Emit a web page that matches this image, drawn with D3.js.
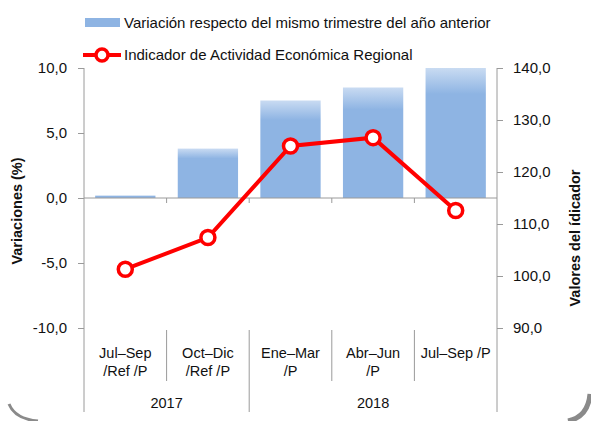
<!DOCTYPE html>
<html>
<head>
<meta charset="utf-8">
<script src="https://cdn.jsdelivr.net/npm/d3@7"></script>
<style>
  body { margin: 0; background: #fff; }
  svg text { font-family: "Liberation Sans", Arial, sans-serif; fill: #111; }
</style>
</head>
<body>
<div id="chart"></div>
<script>
// data
var quarters = [["Jul\u2013Sep", "/Ref /P"], ["Oct\u2013Dic", "/Ref /P"], ["Ene\u2013Mar", "/P"], ["Abr\u2013Jun", "/P"], ["Jul\u2013Sep /P"]];
var years = [{ label: "2017", from: 0, to: 2 }, { label: "2018", from: 2, to: 5 }];
var variacion = [0.2, 3.8, 7.5, 8.5, 10.0];
var indicador = [101.3, 107.4, 125.0, 126.6, 112.6];
var leftTicks = [-10, -5, 0, 5, 10];
var rightTicks = [90, 100, 110, 120, 130, 140];

var W = 591, H = 421;
var margin = { top: 68, right: 94, bottom: 93, left: 84 };
var width = W - margin.left - margin.right,
    height = H - margin.top - margin.bottom;

var fmt = function(d) { return d3.format(".1f")(d).replace(".", ",").replace("\u2212", "-"); };

var svg = d3.select("#chart").append("svg")
    .attr("width", W)
    .attr("height", H);

// gradient for bars
var defs = svg.append("defs");
var grad = defs.append("linearGradient")
    .attr("id", "barGrad")
    .attr("x1", 0).attr("y1", 0).attr("x2", 0).attr("y2", 1);
grad.append("stop").attr("offset", "0%").attr("stop-color", "#c9dbf2");
grad.append("stop").attr("offset", "20%").attr("stop-color", "#8eb4e3");
grad.append("stop").attr("offset", "100%").attr("stop-color", "#8eb4e3");

// frame corners (shadow of rounded border)
svg.append("path")
    .attr("d", "M9,404 Q15,419 38,421")
    .attr("fill", "none").attr("stroke", "#8a8a8a").attr("stroke-width", 3);
svg.append("path")
    .attr("d", "M590,394 Q588,417 568,421")
    .attr("fill", "none").attr("stroke", "#8a8a8a").attr("stroke-width", 5);

var g = svg.append("g")
    .attr("transform", "translate(" + margin.left + "," + margin.top + ")");

var x = d3.scaleBand()
    .domain(d3.range(quarters.length))
    .range([0, width])
    .paddingInner(0.27)
    .paddingOuter(0.135);

var xPos = d3.scaleLinear().domain([0, quarters.length]).range([0, width]);

var yL = d3.scaleLinear().domain([-10, 10]).range([height, 0]);
var yR = d3.scaleLinear().domain([90, 140]).range([height, 0]);

// bars
g.selectAll(".bar")
    .data(variacion)
    .enter().append("rect")
    .attr("class", "bar")
    .attr("x", function(d, i) { return x(i); })
    .attr("width", x.bandwidth())
    .attr("y", function(d) { return yL(Math.max(d, 0)); })
    .attr("height", function(d) { return Math.abs(yL(d) - yL(0)); })
    .attr("fill", "url(#barGrad)");

// left axis
var yAxisL = d3.axisLeft(yL)
    .tickValues(leftTicks)
    .tickSize(6)
    .tickPadding(11)
    .tickFormat(fmt);

var gL = g.append("g").attr("class", "y-axis").call(yAxisL);
gL.select(".domain").remove();
gL.selectAll("line").attr("stroke", "#9a9a9a");
gL.selectAll("text").style("font-size", "15px");

// right axis
var yAxisR = d3.axisRight(yR)
    .tickValues(rightTicks)
    .tickSize(6)
    .tickPadding(10)
    .tickFormat(fmt);

var gR = g.append("g").attr("class", "y-axis-right")
    .attr("transform", "translate(" + width + ",0)")
    .call(yAxisR);
gR.select(".domain").remove();
gR.selectAll("line").attr("stroke", "#9a9a9a");
gR.selectAll("text").style("font-size", "15px");

// vertical axis lines extended down through category area
var bottomY = height + 84;
g.append("line")
    .attr("x1", 0).attr("x2", 0).attr("y1", 0).attr("y2", bottomY)
    .attr("stroke", "#9a9a9a");
g.append("line")
    .attr("x1", width).attr("x2", width).attr("y1", 0).attr("y2", bottomY)
    .attr("stroke", "#9a9a9a");

// zero line with small ticks
g.append("line")
    .attr("x1", 0).attr("x2", width)
    .attr("y1", yL(0)).attr("y2", yL(0))
    .attr("stroke", "#9a9a9a");
g.selectAll(".zt")
    .data(d3.range(1, quarters.length))
    .enter().append("line")
    .attr("x1", function(d) { return xPos(d); })
    .attr("x2", function(d) { return xPos(d); })
    .attr("y1", yL(0)).attr("y2", yL(0) + 5)
    .attr("stroke", "#9a9a9a");

// category separators
var yearBounds = years.map(function(y) { return y.from; });
g.selectAll(".sep")
    .data(d3.range(1, quarters.length))
    .enter().append("line")
    .attr("x1", function(d) { return xPos(d); })
    .attr("x2", function(d) { return xPos(d); })
    .attr("y1", height + 2)
    .attr("y2", function(d) { return yearBounds.indexOf(d) >= 0 ? bottomY : height + 53; })
    .attr("stroke", "#9a9a9a");

// category labels
var cat = g.selectAll(".cat")
    .data(quarters)
    .enter().append("text")
    .attr("class", "cat")
    .attr("text-anchor", "middle")
    .attr("x", function(d, i) { return xPos(i + 0.5); })
    .attr("y", height + 30)
    .style("font-size", "14.5px");
cat.each(function(d) {
    var t = d3.select(this);
    d.forEach(function(s, k) {
        t.append("tspan")
            .attr("x", t.attr("x"))
            .attr("dy", k === 0 ? 0 : 18)
            .text(s);
    });
});

g.selectAll(".year")
    .data(years)
    .enter().append("text")
    .attr("class", "year")
    .attr("text-anchor", "middle")
    .attr("x", function(d) { return xPos((d.from + d.to) / 2); })
    .attr("y", height + 80)
    .style("font-size", "14.5px")
    .text(function(d) { return d.label; });

// line
var line = d3.line()
    .x(function(d, i) { return x(i) + x.bandwidth() / 2; })
    .y(function(d) { return yR(d); });

g.append("path")
    .datum(indicador)
    .attr("d", line)
    .attr("fill", "none")
    .attr("stroke", "#ff0000")
    .attr("stroke-width", 4);

g.selectAll(".dot")
    .data(indicador)
    .enter().append("circle")
    .attr("class", "dot")
    .attr("cx", function(d, i) { return x(i) + x.bandwidth() / 2; })
    .attr("cy", function(d) { return yR(d); })
    .attr("r", 7)
    .attr("fill", "#fff")
    .attr("stroke", "#ff0000")
    .attr("stroke-width", 3.5);

// axis titles
svg.append("text")
    .attr("transform", "translate(22,211) rotate(-90)")
    .attr("text-anchor", "middle")
    .style("font-size", "14.5px")
    .style("font-weight", "bold")
    .text("Variaciones (%)");

svg.append("text")
    .attr("transform", "translate(580,238) rotate(-90)")
    .attr("text-anchor", "middle")
    .style("font-size", "14.5px")
    .style("font-weight", "bold")
    .text("Valores del \u00eddicador");

// legend
var leg = svg.append("g").attr("class", "legend");
leg.append("rect")
    .attr("x", 85).attr("y", 18).attr("width", 35).attr("height", 9)
    .attr("fill", "#8eb4e3");
leg.append("text")
    .attr("x", 124).attr("y", 28)
    .style("font-size", "15px")
    .text("Variaci\u00f3n respecto del mismo trimestre del a\u00f1o anterior");

leg.append("line")
    .attr("x1", 83).attr("x2", 121).attr("y1", 55).attr("y2", 55)
    .attr("stroke", "#ff0000").attr("stroke-width", 4);
leg.append("circle")
    .attr("cx", 102).attr("cy", 55).attr("r", 6)
    .attr("fill", "#fff").attr("stroke", "#ff0000").attr("stroke-width", 3.5);
leg.append("text")
    .attr("x", 124).attr("y", 60)
    .style("font-size", "15px")
    .text("Indicador de Actividad Econ\u00f3mica Regional");
</script>
</body>
</html>
